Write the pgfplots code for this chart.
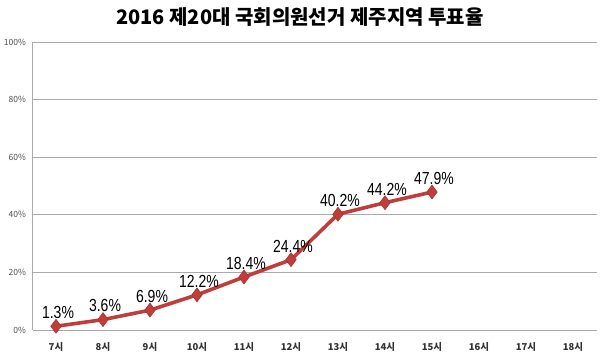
\documentclass[border=0pt]{standalone}
\usepackage{pgfplots}
\pgfplotsset{compat=1.18}
\usepackage{fontspec}
\setmainfont{Liberation Sans}
\newfontfamily\kr{Noto Sans CJK KR}
\newfontfamily\lbl[FakeStretch=0.8]{Liberation Sans}
\definecolor{lred}{RGB}{192,62,58}
\definecolor{gridgray}{RGB}{170,170,170}
\begin{document}
\begin{tikzpicture}
\useasboundingbox (-32.5pt,-26pt) rectangle (567.5pt,330pt);
\begin{axis}[
  scale only axis,
  width=564pt, height=288pt,
  xmin=-0.5, xmax=11.5,
  ymin=0, ymax=100,
  xtick={0,1,2,3,4,5,6,7,8,9,10,11},
  xticklabels={7시,8시,9시,10시,11시,12시,13시,14시,15시,16시,17시,18시},
  ytick={0,20,40,60,80,100},
  yticklabels={0\%,20\%,40\%,60\%,80\%,100\%},
  ymajorgrids,
  grid style={gridgray, line width=0.9pt},
  axis x line*=bottom,
  axis y line*=left,
  axis line style={gridgray, line width=0.9pt},
  major tick length=0pt,
  x axis line style={-},
  y axis line style={-},
  xticklabel style={font=\kr\fontsize{9.5}{11}\selectfont\bfseries, text=black!80, yshift=-9pt},
  yticklabel style={font=\kr\fontsize{8.5}{10}\selectfont, text=black!70, xshift=-3pt},
  /pgf/number format/assume math mode=true,
  clip=false,
]
\addplot[color=lred, line width=3.6pt, mark=diamond*, mark size=7pt,
  mark options={fill=lred, draw=lred!80!black, line width=0.5pt},
  nodes near coords={\pgfmathprintnumber[fixed,fixed zerofill,precision=1,assume math mode=true]{\pgfplotspointmeta}\%},
  nodes near coords style={font=\lbl\fontsize{17.5}{19}\selectfont, text=black, anchor=south, yshift=4pt, xshift=2pt},
] coordinates {
  (0,1.3) (1,3.6) (2,6.9) (3,12.2) (4,18.4) (5,24.4) (6,40.2) (7,44.2) (8,47.9)
};
\end{axis}
\node[font=\kr\fontsize{20}{23}\selectfont\bfseries] at (267.5pt,313pt) {2016 제20대 국회의원선거 제주지역 투표율};
\end{tikzpicture}
\end{document}
